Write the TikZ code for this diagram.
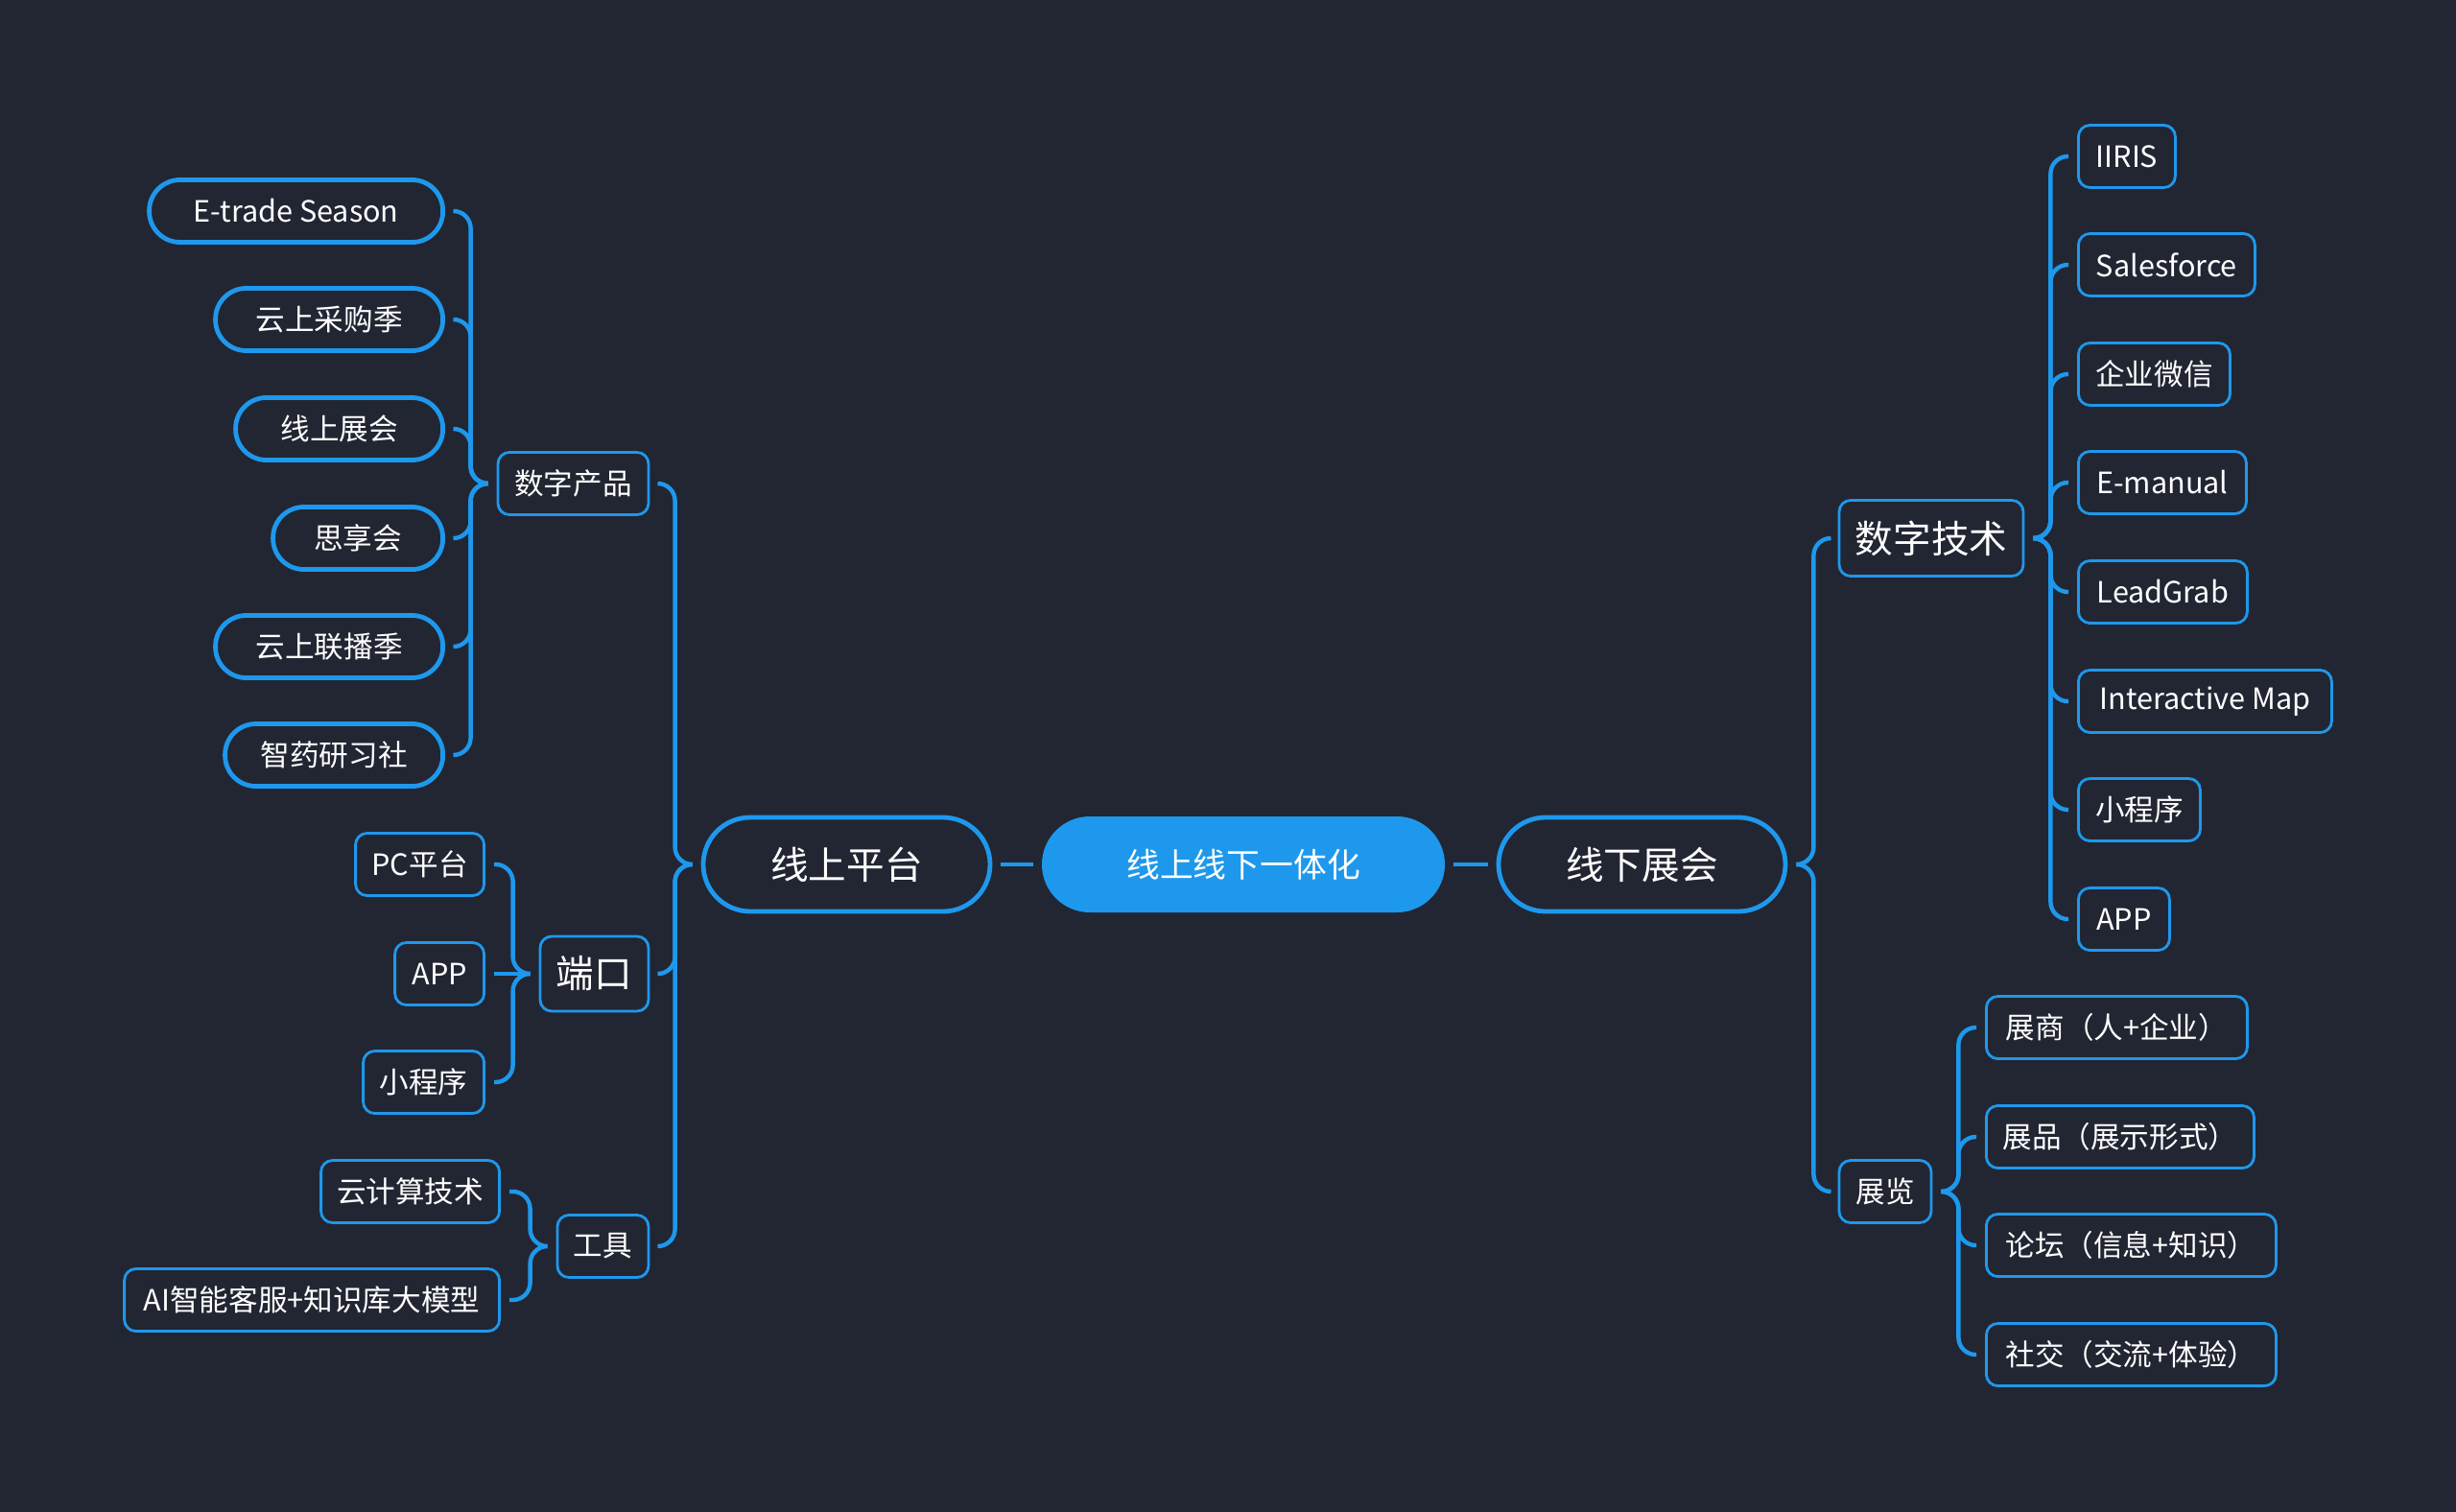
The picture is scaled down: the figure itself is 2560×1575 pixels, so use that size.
\documentclass[tikz,border=0pt]{standalone}
\usepackage{fontspec}
\setmainfont{Noto Sans CJK SC}
\usetikzlibrary{calc}
\definecolor{bg}{RGB}{34,38,51}
\definecolor{bl}{RGB}{30,152,236}
\begin{document}
\begin{tikzpicture}[x=0.5pt,y=-0.5pt,
  br/.style={draw=bl,line width=2.2pt,rounded corners=9pt},
  sfont/.style={font=\fontsize{15.3}{18}\selectfont},
  bfont/.style={font=\fontsize{19.8}{23}\selectfont},
  pill/.style={draw=bl,line width=2.4pt,fill=bg,rounded corners=16pt,minimum height=32.5pt,inner sep=0pt,text=white,sfont},
  box/.style={draw=bl,line width=1.4pt,fill=bg,rounded corners=6pt,minimum height=32.5pt,inner sep=0pt,text=white,sfont},
  bigpill/.style={draw=bl,line width=2.4pt,fill=bg,rounded corners=24.5pt,minimum height=49pt,minimum width=149.5pt,inner sep=0pt,text=white,bfont},
  centre/.style={draw=bl,line width=1pt,fill=bl,rounded corners=24.5pt,minimum height=49pt,minimum width=209pt,inner sep=0pt,text=white,font=\fontsize{17.4}{20}\selectfont}
]
\useasboundingbox (0,0) rectangle (2560,1575);
\fill[bg] (-20,-20) rectangle (2580,1595);

% centre and first level
\node[centre] (C) at (1296,901) {线上线下一体化};
\node[bigpill] (L) at (882.5,901) {线上平台};
\node[bigpill] (R) at (1711.5,901) {线下展会};
\draw[br] ($(L.east)+(9,0)$) -- ($(C.west)+(-9,0)$);
\draw[br] ($(C.east)+(9,0)$) -- ($(R.west)+(-9,0)$);

% left second level
\node[box,minimum width=78.5pt] (dp) at (597.5,504) {数字产品};
\node[box,minimum width=56.5pt,minimum height=39pt,bfont] (dk) at (619.5,1015) {端口};
\node[box,minimum width=47.5pt] (gj) at (628.5,1299) {工具};

% right second level
\node[box,minimum width=96pt,minimum height=39.5pt,bfont] (js) at (2013,561) {数字技术};
\node[box,minimum width=48pt] (zl) at (1965,1242) {展览};

% 数字产品 children
\node[pill,anchor=east,minimum width=153pt] (d1) at (464,220) {E-trade Season};
\node[pill,anchor=east,minimum width=118.5pt] (d2) at (464,333) {云上采购季};
\node[pill,anchor=east,minimum width=108pt] (d3) at (464,447) {线上展会};
\node[pill,anchor=east,minimum width=88.5pt] (d4) at (464,561) {思享会};
\node[pill,anchor=east,minimum width=118.5pt] (d5) at (464,674) {云上联播季};
\node[pill,anchor=east,minimum width=113.5pt] (d6) at (464,787) {智药研习社};

% 端口 children
\node[box,anchor=east,minimum width=67pt] (p1) at (506,901) {PC平台};
\node[box,anchor=east,minimum width=46.5pt] (p2) at (506,1015) {APP};
\node[box,anchor=east,minimum width=63pt] (p3) at (506,1128) {小程序};

% 工具 children
\node[box,anchor=east,minimum width=93pt] (g1) at (522,1242) {云计算技术};
\node[box,anchor=east,minimum width=195.5pt] (g2) at (522,1355) {AI智能客服+知识库大模型};

% 数字技术 children
\node[box,anchor=west,minimum width=50.5pt] (j1) at (2165,163) {IIRIS};
\node[box,anchor=west,minimum width=92pt] (j2) at (2165,276) {Salesforce};
\node[box,anchor=west,minimum width=79pt] (j3) at (2165,390) {企业微信};
\node[box,anchor=west,minimum width=87.5pt] (j4) at (2165,503) {E-manual};
\node[box,anchor=west,minimum width=88pt] (j5) at (2165,617) {LeadGrab};
\node[box,anchor=west,minimum width=132pt] (j6) at (2165,731) {Interactive Map};
\node[box,anchor=west,minimum width=63.5pt] (j7) at (2165,844) {小程序};
\node[box,anchor=west,minimum width=47.5pt] (j8) at (2165,958) {APP};

% 展览 children
\node[box,anchor=west,minimum width=136pt] (z1) at (2069,1071) {展商（人+企业）};
\node[box,anchor=west,minimum width=139.5pt] (z2) at (2069,1185) {展品（展示形式）};
\node[box,anchor=west,minimum width=151pt] (z3) at (2069,1298) {论坛（信息+知识）};
\node[box,anchor=west,minimum width=151pt] (z4) at (2069,1412) {社交（交流+体验）};

% bracket helper coordinates
\coordinate (Lt) at ($(L.west)+(-9,0)$);
\coordinate (Lb) at ($(L.west)+(-27,0)$);
\coordinate (Rt) at ($(R.east)+(9,0)$);
\coordinate (Rb) at ($(R.east)+(27,0)$);
\coordinate (dpt) at ($(dp.west)+(-9,0)$);
\coordinate (dpb) at ($(dp.west)+(-27,0)$);
\coordinate (dkt) at ($(dk.west)+(-9,0)$);
\coordinate (dkb) at ($(dk.west)+(-27,0)$);
\coordinate (gjt) at ($(gj.west)+(-9,0)$);
\coordinate (gjb) at ($(gj.west)+(-27,0)$);
\coordinate (jst) at ($(js.east)+(9,0)$);
\coordinate (jsb) at ($(js.east)+(27,0)$);
\coordinate (zlt) at ($(zl.east)+(9,0)$);
\coordinate (zlb) at ($(zl.east)+(27,0)$);

% left brackets
\foreach \c in {dp,dk,gj}
  \draw[br] (Lt) -| (Lb |- \c.east) -- ($(\c.east)+(9,0)$);
\foreach \c in {d1,d2,d3,d4,d5,d6}
  \draw[br] (dpt) -| (dpb |- \c.east) -- ($(\c.east)+(9,0)$);
\foreach \c in {p1,p3}
  \draw[br] (dkt) -| (dkb |- \c.east) -- ($(\c.east)+(9,0)$);
\draw[br] (dkt) -- ($(p2.east)+(9,0)$);
\foreach \c in {g1,g2}
  \draw[br] (gjt) -| (gjb |- \c.east) -- ($(\c.east)+(9,0)$);

% right brackets
\foreach \c in {js,zl}
  \draw[br] (Rt) -| (Rb |- \c.west) -- ($(\c.west)+(-9,0)$);
\foreach \c in {j1,j2,j3,j4,j5,j6,j7,j8}
  \draw[br] (jst) -| (jsb |- \c.west) -- ($(\c.west)+(-9,0)$);
\foreach \c in {z1,z2,z3,z4}
  \draw[br] (zlt) -| (zlb |- \c.west) -- ($(\c.west)+(-9,0)$);
\end{tikzpicture}
\end{document}
